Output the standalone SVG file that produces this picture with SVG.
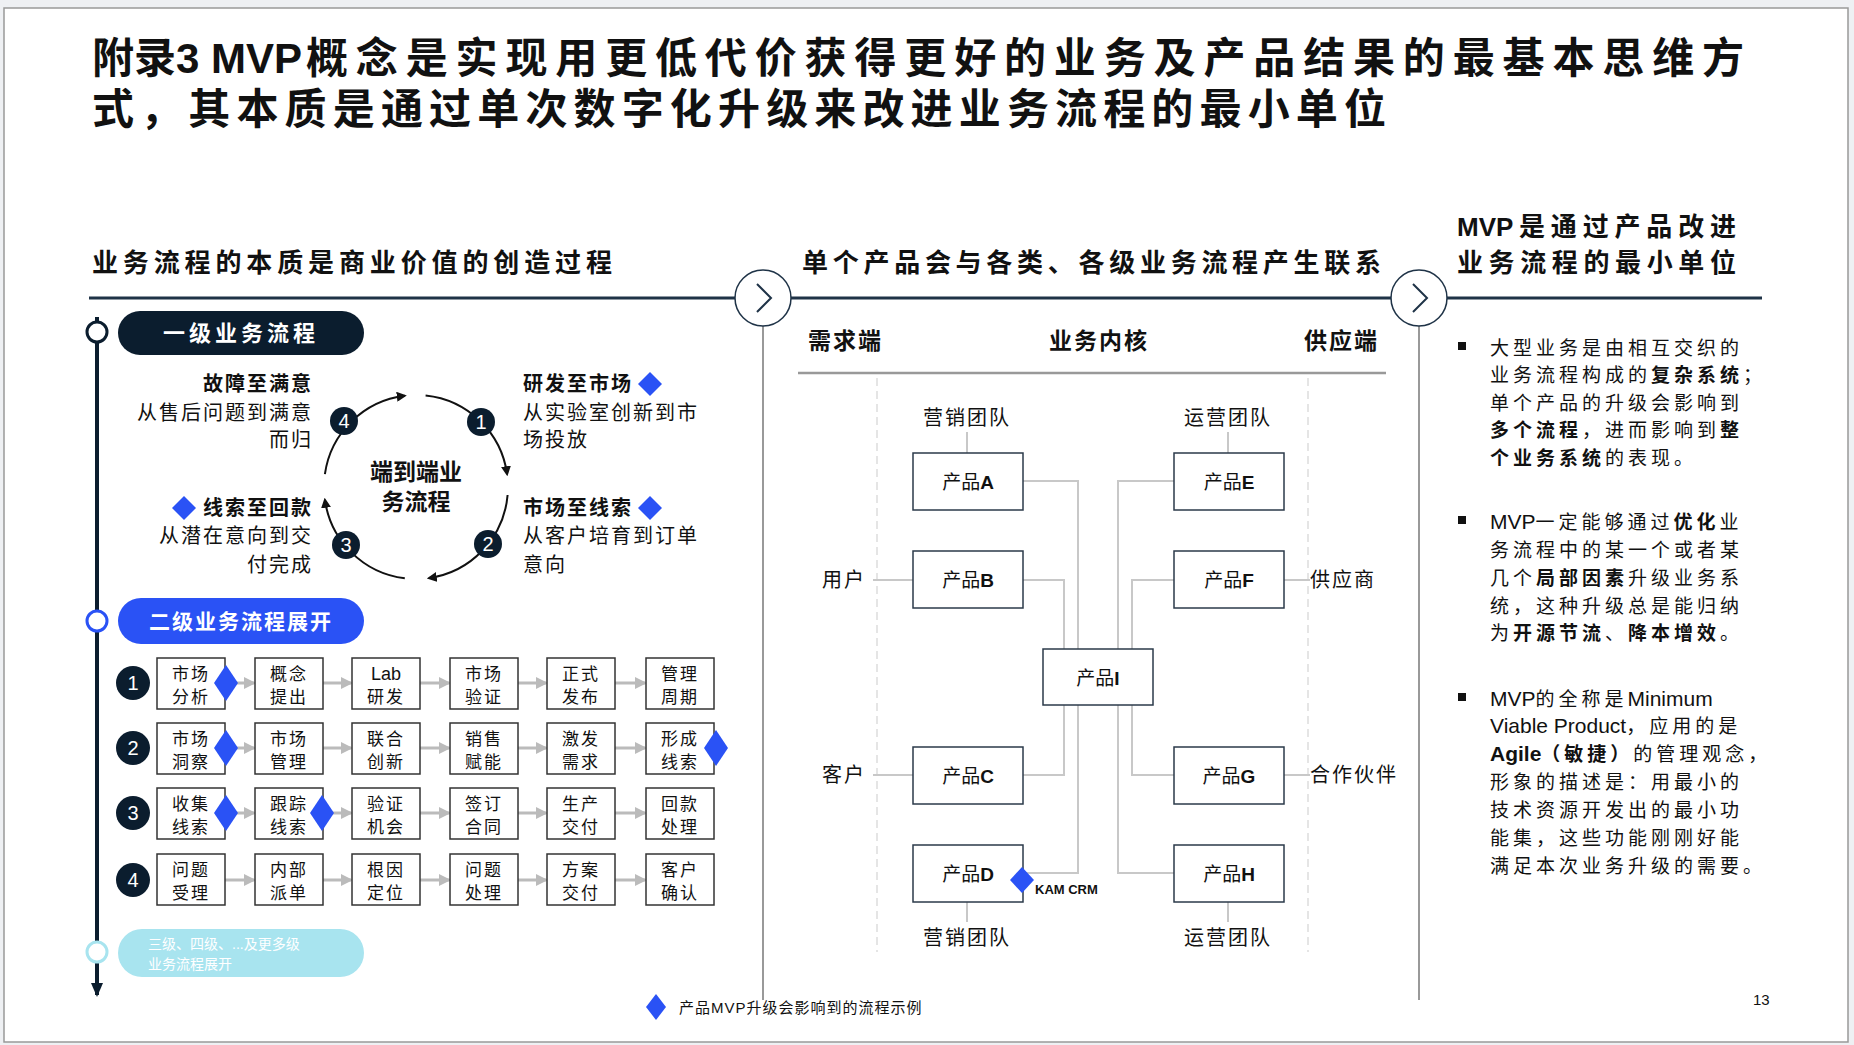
<svg xmlns="http://www.w3.org/2000/svg" width="1854" height="1045" viewBox="0 0 1854 1045">
<style>
text{font-family:"Liberation Sans","Noto Sans CJK SC",sans-serif;fill:#111}
.b{font-weight:bold}
.hdr{font-size:26px;font-weight:bold}
.lab{font-size:20px;letter-spacing:2px}
.cy{font-size:20px;letter-spacing:2px}
.bx{fill:#fff;stroke:#333;stroke-width:1.5}
.gb{font-size:17px;letter-spacing:2px;text-anchor:middle}
.pb{fill:#fff;stroke:#2b3a4a;stroke-width:1.5}
.pt{font-size:19px;text-anchor:middle}
.cn{fill:none;stroke:#c8c8c8;stroke-width:2}
.dm{fill:#2a52f5}
.rt{font-size:19px;letter-spacing:4px}
.ln{letter-spacing:0;font-size:21px}
.num{fill:#0b1d2e}
.nt{fill:#fff;font-size:20px;text-anchor:middle}
</style>
<defs>
<marker id="ak" markerWidth="10" markerHeight="10" refX="8" refY="5" orient="auto" markerUnits="userSpaceOnUse"><path d="M0,0 L10,5 L0,10 Z" fill="#111"/></marker>
<marker id="ag" markerWidth="12" markerHeight="12" refX="10" refY="6" orient="auto" markerUnits="userSpaceOnUse"><path d="M0,0 L12,6 L0,12 Z" fill="#bbb"/></marker>
<marker id="at" markerWidth="14" markerHeight="14" refX="7" refY="12" orient="0" markerUnits="userSpaceOnUse"><path d="M1,0 L13,0 L7,14 Z" fill="#0b1d2e"/></marker>
</defs>
<rect x="0" y="0" width="1854" height="1045" fill="#eef0f3"/>
<rect x="4" y="8" width="1844" height="1034" fill="#fff" stroke="#999" stroke-width="1.5"/>

<g id="title">
<text x="92" y="73" font-size="42" class="b">附录3 MVP<tspan x="306" textLength="1438" lengthAdjust="spacing">概念是实现用更低代价获得更好的业务及产品结果的最基本思维方</tspan></text>
<text x="92" y="124" font-size="42" class="b" textLength="1294" lengthAdjust="spacing">式，其本质是通过单次数字化升级来改进业务流程的最小单位</text>
</g>

<g id="headers">
<text x="92" y="272" class="hdr" textLength="520" lengthAdjust="spacing">业务流程的本质是商业价值的创造过程</text>
<text x="802" y="272" class="hdr" textLength="579" lengthAdjust="spacing">单个产品会与各类、各级业务流程产生联系</text>
<text x="1457" y="236" class="hdr">MVP<tspan x="1519" textLength="217" lengthAdjust="spacing">是通过产品改进</tspan></text>
<text x="1457" y="272" class="hdr" textLength="279" lengthAdjust="spacing">业务流程的最小单位</text>
<line x1="89" y1="298" x2="1762" y2="298" stroke="#1f3347" stroke-width="3"/>
<line x1="763" y1="326" x2="763" y2="1000" stroke="#777" stroke-width="1.5"/>
<line x1="1419" y1="326" x2="1419" y2="1000" stroke="#777" stroke-width="1.5"/>
<circle cx="763" cy="298" r="28" fill="#fff" stroke="#1f3347" stroke-width="1.5"/>
<path d="M757,284 L771,298 L757,312" fill="none" stroke="#1f3347" stroke-width="2"/>
<circle cx="1419" cy="298" r="28" fill="#fff" stroke="#1f3347" stroke-width="1.5"/>
<path d="M1413,284 L1427,298 L1413,312" fill="none" stroke="#1f3347" stroke-width="2"/>
</g>

<g id="timeline">
<line x1="97" y1="317" x2="97" y2="995" stroke="#0b1d2e" stroke-width="4" marker-end="url(#at)"/>
<circle cx="97" cy="332" r="10" fill="#fff" stroke="#0b1d2e" stroke-width="3"/>
<circle cx="97" cy="621" r="10" fill="#fff" stroke="#2a52f5" stroke-width="3"/>
<circle cx="97" cy="952" r="10" fill="#fff" stroke="#a8e4ef" stroke-width="3"/>
</g>
<g id="pill1"><rect x="118" y="311" width="246" height="44" rx="22" fill="#0b1d2e"/><text x="241" y="341" font-size="22" class="b" text-anchor="middle" style="fill:#fff;letter-spacing:4px">一级业务流程</text></g>
<g id="pill2"><rect x="118" y="598" width="246" height="46" rx="23" fill="#2a52f5"/><text x="241" y="629" font-size="21" class="b" text-anchor="middle" style="fill:#fff;letter-spacing:2px">二级业务流程展开</text></g>
<g id="pill3"><rect x="118" y="929" width="246" height="48" rx="24" fill="#a8e4ef"/><text x="148" y="949" font-size="14" style="fill:#fff">三级、四级、...及更多级</text><text x="148" y="969" font-size="14" style="fill:#fff">业务流程展开</text></g>

<g id="cycle">
<path d="M425.6,395.5 A92,92 0 0 1 507.1,474.2" fill="none" stroke="#111" stroke-width="2" marker-end="url(#ak)"/>
<path d="M507.6,495 A92,92 0 0 1 428.8,578.1" fill="none" stroke="#111" stroke-width="2" marker-end="url(#ak)"/>
<path d="M404.8,578.3 A92,92 0 0 1 324.9,499.8" fill="none" stroke="#111" stroke-width="2" marker-end="url(#ak)"/>
<path d="M324.9,474.2 A92,92 0 0 1 404.8,395.7" fill="none" stroke="#111" stroke-width="2" marker-end="url(#ak)"/>
<circle cx="481" cy="422" r="14" class="num"/><text x="481" y="429" class="nt">1</text>
<circle cx="488" cy="544" r="14" class="num"/><text x="488" y="551" class="nt">2</text>
<circle cx="346" cy="545" r="14" class="num"/><text x="346" y="552" class="nt">3</text>
<circle cx="344" cy="421" r="14" class="num"/><text x="344" y="428" class="nt">4</text>
<text x="416" y="480" font-size="23" class="b" text-anchor="middle">端到端业</text>
<text x="416" y="510" font-size="23" class="b" text-anchor="middle">务流程</text>
<text x="313" y="391" class="cy b" text-anchor="end">故障至满意</text>
<text x="313" y="420" class="cy" text-anchor="end">从售后问题到满意</text>
<text x="313" y="447" class="cy" text-anchor="end">而归</text>
<text x="523" y="391" class="cy b">研发至市场</text>
<text x="523" y="420" class="cy">从实验室创新到市</text>
<text x="523" y="447" class="cy">场投放</text>
<text x="313" y="515" class="cy b" text-anchor="end">线索至回款</text>
<text x="313" y="543" class="cy" text-anchor="end">从潜在意向到交</text>
<text x="313" y="572" class="cy" text-anchor="end">付完成</text>
<text x="523" y="515" class="cy b">市场至线索</text>
<text x="523" y="543" class="cy">从客户培育到订单</text>
<text x="523" y="572" class="cy">意向</text>
<path d="M650,372 L662,384 L650,396 L638,384 Z" class="dm"/>
<path d="M650,496 L662,508 L650,520 L638,508 Z" class="dm"/>
<path d="M184,496 L196,508 L184,520 L172,508 Z" class="dm"/>
</g>

<g id="grid-connectors">
<g stroke="#bbb" stroke-width="3" marker-end="url(#ag)">
<line x1="225" y1="683" x2="254" y2="683"/><line x1="323" y1="683" x2="351" y2="683"/><line x1="420" y1="683" x2="449" y2="683"/><line x1="518" y1="683" x2="546" y2="683"/><line x1="615" y1="683" x2="645" y2="683"/>
<line x1="225" y1="748" x2="254" y2="748"/><line x1="323" y1="748" x2="351" y2="748"/><line x1="420" y1="748" x2="449" y2="748"/><line x1="518" y1="748" x2="546" y2="748"/><line x1="615" y1="748" x2="645" y2="748"/>
<line x1="225" y1="813" x2="254" y2="813"/><line x1="323" y1="813" x2="351" y2="813"/><line x1="420" y1="813" x2="449" y2="813"/><line x1="518" y1="813" x2="546" y2="813"/><line x1="615" y1="813" x2="645" y2="813"/>
<line x1="225" y1="880" x2="254" y2="880"/><line x1="323" y1="880" x2="351" y2="880"/><line x1="420" y1="880" x2="449" y2="880"/><line x1="518" y1="880" x2="546" y2="880"/><line x1="615" y1="880" x2="645" y2="880"/>
</g>
</g>
<g id="grid">
<g id="row1">
<circle cx="133" cy="683" r="17" class="num"/><text x="133" y="690" class="nt">1</text>
<rect x="157" y="658" width="68" height="51" class="bx"/><text x="191" y="680" class="gb">市场</text><text x="191" y="703" class="gb">分析</text>
<rect x="255" y="658" width="68" height="51" class="bx"/><text x="289" y="680" class="gb">概念</text><text x="289" y="703" class="gb">提出</text>
<rect x="352" y="658" width="68" height="51" class="bx"/><text x="386" y="680" font-size="18" text-anchor="middle">Lab</text><text x="386" y="703" class="gb">研发</text>
<rect x="450" y="658" width="68" height="51" class="bx"/><text x="484" y="680" class="gb">市场</text><text x="484" y="703" class="gb">验证</text>
<rect x="547" y="658" width="68" height="51" class="bx"/><text x="581" y="680" class="gb">正式</text><text x="581" y="703" class="gb">发布</text>
<rect x="646" y="658" width="68" height="51" class="bx"/><text x="680" y="680" class="gb">管理</text><text x="680" y="703" class="gb">周期</text>
<path d="M226,665 L238,683 L226,701 L214,683 Z" class="dm"/>
</g>
<g id="row2">
<circle cx="133" cy="748" r="17" class="num"/><text x="133" y="755" class="nt">2</text>
<rect x="157" y="723" width="68" height="51" class="bx"/><text x="191" y="745" class="gb">市场</text><text x="191" y="768" class="gb">洞察</text>
<rect x="255" y="723" width="68" height="51" class="bx"/><text x="289" y="745" class="gb">市场</text><text x="289" y="768" class="gb">管理</text>
<rect x="352" y="723" width="68" height="51" class="bx"/><text x="386" y="745" class="gb">联合</text><text x="386" y="768" class="gb">创新</text>
<rect x="450" y="723" width="68" height="51" class="bx"/><text x="484" y="745" class="gb">销售</text><text x="484" y="768" class="gb">赋能</text>
<rect x="547" y="723" width="68" height="51" class="bx"/><text x="581" y="745" class="gb">激发</text><text x="581" y="768" class="gb">需求</text>
<rect x="646" y="723" width="68" height="51" class="bx"/><text x="680" y="745" class="gb">形成</text><text x="680" y="768" class="gb">线索</text>
<path d="M226,730 L238,748 L226,766 L214,748 Z" class="dm"/>
<path d="M716,730 L728,748 L716,766 L704,748 Z" class="dm"/>
</g>
<g id="row3">
<circle cx="133" cy="813" r="17" class="num"/><text x="133" y="820" class="nt">3</text>
<rect x="157" y="788" width="68" height="51" class="bx"/><text x="191" y="810" class="gb">收集</text><text x="191" y="833" class="gb">线索</text>
<rect x="255" y="788" width="68" height="51" class="bx"/><text x="289" y="810" class="gb">跟踪</text><text x="289" y="833" class="gb">线索</text>
<rect x="352" y="788" width="68" height="51" class="bx"/><text x="386" y="810" class="gb">验证</text><text x="386" y="833" class="gb">机会</text>
<rect x="450" y="788" width="68" height="51" class="bx"/><text x="484" y="810" class="gb">签订</text><text x="484" y="833" class="gb">合同</text>
<rect x="547" y="788" width="68" height="51" class="bx"/><text x="581" y="810" class="gb">生产</text><text x="581" y="833" class="gb">交付</text>
<rect x="646" y="788" width="68" height="51" class="bx"/><text x="680" y="810" class="gb">回款</text><text x="680" y="833" class="gb">处理</text>
<path d="M226,795 L238,813 L226,831 L214,813 Z" class="dm"/>
<path d="M322,795 L334,813 L322,831 L310,813 Z" class="dm"/>
</g>
<g id="row4">
<circle cx="133" cy="880" r="17" class="num"/><text x="133" y="887" class="nt">4</text>
<rect x="157" y="854" width="68" height="51" class="bx"/><text x="191" y="876" class="gb">问题</text><text x="191" y="899" class="gb">受理</text>
<rect x="255" y="854" width="68" height="51" class="bx"/><text x="289" y="876" class="gb">内部</text><text x="289" y="899" class="gb">派单</text>
<rect x="352" y="854" width="68" height="51" class="bx"/><text x="386" y="876" class="gb">根因</text><text x="386" y="899" class="gb">定位</text>
<rect x="450" y="854" width="68" height="51" class="bx"/><text x="484" y="876" class="gb">问题</text><text x="484" y="899" class="gb">处理</text>
<rect x="547" y="854" width="68" height="51" class="bx"/><text x="581" y="876" class="gb">方案</text><text x="581" y="899" class="gb">交付</text>
<rect x="646" y="854" width="68" height="51" class="bx"/><text x="680" y="876" class="gb">客户</text><text x="680" y="899" class="gb">确认</text>
</g>
</g>

<g id="legend">
<path d="M656,994 L666,1007 L656,1020 L646,1007 Z" class="dm"/>
<text x="679" y="1013" font-size="15" style="letter-spacing:1px">产品MVP升级会影响到的流程示例</text>
</g>

<g id="middle-frame">
<text x="808" y="349" font-size="23" class="b" style="letter-spacing:2px">需求端</text>
<text x="1099" y="349" font-size="23" class="b" text-anchor="middle" style="letter-spacing:2px">业务内核</text>
<text x="1379" y="349" font-size="23" class="b" text-anchor="end" style="letter-spacing:2px">供应端</text>
<line x1="798" y1="373" x2="1386" y2="373" stroke="#999" stroke-width="2.5"/>
<line x1="877" y1="378" x2="877" y2="952" stroke="#ddd" stroke-width="1.5" stroke-dasharray="8,5"/>
<line x1="1308" y1="378" x2="1308" y2="952" stroke="#ddd" stroke-width="1.5" stroke-dasharray="8,5"/>
</g>

<g id="mid-connectors">
<path class="cn" d="M1023,481 H1078 V649"/>
<path class="cn" d="M1023,580 H1064 V649"/>
<path class="cn" d="M1174,481 H1118 V649"/>
<path class="cn" d="M1174,580 H1132 V649"/>
<path class="cn" d="M1064,705 V775 H1023"/>
<path class="cn" d="M1078,705 V873 H1023"/>
<path class="cn" d="M1118,705 V873 H1174"/>
<path class="cn" d="M1132,705 V775 H1174"/>
<path class="cn" d="M967,432 V453"/>
<path class="cn" d="M1228,432 V453"/>
<path class="cn" d="M967,902 V922"/>
<path class="cn" d="M1228,902 V922"/>
<path class="cn" d="M873,580 H913"/>
<path class="cn" d="M873,775 H913"/>
<path class="cn" d="M1283,580 H1310"/>
<path class="cn" d="M1283,775 H1310"/>
</g>
<g id="team-labels">
<text x="967" y="425" class="lab" text-anchor="middle">营销团队</text>
<text x="1228" y="425" class="lab" text-anchor="middle">运营团队</text>
<text x="967" y="945" class="lab" text-anchor="middle">营销团队</text>
<text x="1228" y="945" class="lab" text-anchor="middle">运营团队</text>
<text x="866" y="587" class="lab" text-anchor="end">用户</text>
<text x="866" y="782" class="lab" text-anchor="end">客户</text>
<text x="1310" y="587" class="lab">供应商</text>
<text x="1310" y="782" class="lab">合作伙伴</text>
</g>
<g id="prodA"><rect x="913" y="453" width="110" height="57" class="pb"/><text x="968" y="489" class="pt">产品<tspan class="b">A</tspan></text></g>
<g id="prodB"><rect x="913" y="551" width="110" height="57" class="pb"/><text x="968" y="587" class="pt">产品<tspan class="b">B</tspan></text></g>
<g id="prodC"><rect x="913" y="747" width="110" height="57" class="pb"/><text x="968" y="783" class="pt">产品<tspan class="b">C</tspan></text></g>
<g id="prodD"><rect x="913" y="845" width="110" height="57" class="pb"/><text x="968" y="881" class="pt">产品<tspan class="b">D</tspan></text></g>
<g id="prodE"><rect x="1174" y="453" width="110" height="57" class="pb"/><text x="1229" y="489" class="pt">产品<tspan class="b">E</tspan></text></g>
<g id="prodF"><rect x="1174" y="551" width="110" height="57" class="pb"/><text x="1229" y="587" class="pt">产品<tspan class="b">F</tspan></text></g>
<g id="prodG"><rect x="1174" y="747" width="110" height="57" class="pb"/><text x="1229" y="783" class="pt">产品<tspan class="b">G</tspan></text></g>
<g id="prodH"><rect x="1174" y="845" width="110" height="57" class="pb"/><text x="1229" y="881" class="pt">产品<tspan class="b">H</tspan></text></g>
<g id="prodI"><rect x="1043" y="649" width="110" height="56" class="pb"/><text x="1098" y="685" class="pt">产品<tspan class="b">I</tspan></text></g>
<g id="kam"><path d="M1022,867 L1034,880 L1022,893 L1010,880 Z" class="dm"/><text x="1035" y="894" font-size="13" class="b">KAM CRM</text></g>

<g id="right-text">
<rect x="1458" y="342" width="8" height="8" fill="#111"/>
<text class="rt"><tspan x="1490" y="355">大型业务是由相互交织的</tspan><tspan x="1490" y="382">业务流程构成的<tspan class="b">复杂系统</tspan>；</tspan><tspan x="1490" y="410">单个产品的升级会影响到</tspan><tspan x="1490" y="437"><tspan class="b">多个流程</tspan>，进而影响到<tspan class="b">整</tspan></tspan><tspan x="1490" y="465"><tspan class="b">个业务系统</tspan>的表现。</tspan></text>
<rect x="1458" y="516" width="8" height="8" fill="#111"/>
<text class="rt"><tspan x="1490" y="529"><tspan class="ln">MVP</tspan>一定能够通过<tspan class="b">优化</tspan>业</tspan><tspan x="1490" y="557">务流程中的某一个或者某</tspan><tspan x="1490" y="585">几个<tspan class="b">局部因素</tspan>升级业务系</tspan><tspan x="1490" y="613">统，这种升级总是能归纳</tspan><tspan x="1490" y="640">为<tspan class="b">开源节流</tspan>、<tspan class="b">降本增效</tspan>。</tspan></text>
<rect x="1458" y="693" width="8" height="8" fill="#111"/>
<text class="rt"><tspan x="1490" y="706"><tspan class="ln">MVP</tspan>的全称是<tspan class="ln">Minimum</tspan></tspan><tspan x="1490" y="733"><tspan class="ln">Viable Product</tspan>，应用的是</tspan><tspan x="1490" y="761"><tspan class="ln b">Agile</tspan><tspan class="b">（敏捷）</tspan>的管理观念，</tspan><tspan x="1490" y="789">形象的描述是：用最小的</tspan><tspan x="1490" y="817">技术资源开发出的最小功</tspan><tspan x="1490" y="845">能集，这些功能刚刚好能</tspan><tspan x="1490" y="873">满足本次业务升级的需要。</tspan></text>
<text x="1753" y="1005" font-size="15">13</text>
</g>
</svg>
